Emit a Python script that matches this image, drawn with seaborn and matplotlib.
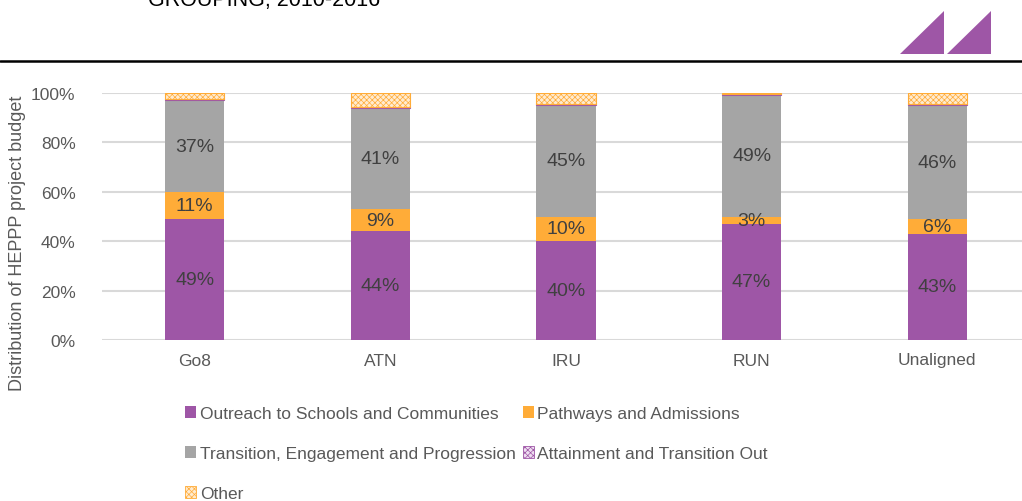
import numpy as np
import matplotlib
matplotlib.use("Agg")
import matplotlib.pyplot as plt
from matplotlib.patches import Polygon, Patch
from matplotlib.lines import Line2D
import pandas as pd
import seaborn as sns

groups = ["Go8", "ATN", "IRU", "RUN", "Unaligned"]
outreach = [49, 44, 40, 47, 43]
pathways = [11, 9, 10, 3, 6]
transition = [37, 41, 45, 49, 46]
attainment = [0.5, 0.5, 0.5, 0.4, 0.4]
other = [2.5, 5.5, 4.5, 0.6, 4.6]

series_names = ["Outreach to Schools and Communities", "Pathways and Admissions",
                "Transition, Engagement and Progression", "Attainment and Transition Out",
                "Other"]

sns.set_style("white")
plt.rcParams["font.family"] = ["Liberation Sans Narrow", "Liberation Sans", "DejaVu Sans"]
plt.rcParams["hatch.linewidth"] = 0.5

purple = "#9E56A6"
orange = "#FFAC38"
grey = "#A5A5A5"
txt = "#595959"

styles = [
    dict(color=purple, edgecolor="none", hatch=None),
    dict(color=orange, edgecolor="none", hatch=None),
    dict(color=grey, edgecolor="none", hatch=None),
    dict(color="#EEDDF0", edgecolor=purple, hatch="xxxxxx"),
    dict(color="#FFEBD0", edgecolor=orange, hatch="xxxxxx"),
]

df = pd.DataFrame({"group": groups, "outreach": outreach, "pathways": pathways,
                   "transition": transition, "attainment": attainment, "other": other})
cols = ["outreach", "pathways", "transition", "attainment", "other"]

fig = plt.figure(figsize=(10.22, 5.02), dpi=100)
ax = fig.add_axes([102 / 1022, 161 / 502, 920 / 1022, 247 / 502])

bottom = np.zeros(len(groups))
for i, c in enumerate(cols):
    st = styles[i]
    sns.barplot(data=df, x="group", y=c, ax=ax, bottom=bottom, width=0.32,
                color=st["color"], edgecolor=st["edgecolor"], hatch=st["hatch"],
                linewidth=0.8 if st["hatch"] else 0, saturation=1)
    if i < 3:
        for j, v in enumerate(df[c]):
            ax.text(j, bottom[j] + v / 2, f"{v:.0f}%", ha="center", va="center",
                    fontsize=14, color="#404040")
    bottom = bottom + df[c].values

ax.set_ylim(0, 100)
ax.set_xlim(-0.5, 4.5 - 8 / 185.7)
ax.set_yticks(range(0, 101, 20))
ax.set_yticklabels([f"{t}%" for t in range(0, 101, 20)])
ax.yaxis.grid(True, color="#D9D9D9", linewidth=1.5)
ax.set_axisbelow(True)
for s in ax.spines.values():
    s.set_visible(False)
ax.tick_params(axis="both", length=0, labelsize=12.5, labelcolor=txt)
ax.tick_params(axis="y", pad=19)
ax.tick_params(axis="x", pad=9)
ax.set_xlabel("")
ax.set_ylabel("")
fig.text(18 / 1022, 1 - 243 / 502, "Distribution of HEPPP project budget", rotation=90,
         ha="center", va="center", fontsize=13, color=txt)

# legend filled row by row like the original
order = [0, 2, 4, 1, 3]
handles = [Patch(facecolor=st["color"], edgecolor=st["edgecolor"] if st["hatch"] else "none",
                 hatch=st["hatch"], linewidth=0.6) for st in styles]
fig.legend([handles[k] for k in order], [series_names[k] for k in order], ncol=2,
           loc="upper left", bbox_to_anchor=(178 / 1022, 1 - 400 / 502), frameon=False,
           fontsize=12.5, labelcolor=txt, handlelength=0.65, handleheight=0.65,
           handletextpad=0.2, columnspacing=0.4, labelspacing=1.45, borderaxespad=0)

# header
fig.text(148 / 1022, 1 - 6 / 502, "GROUPING, 2010-2016", fontsize=15.5, color="black",
         family=["Liberation Sans", "DejaVu Sans"], ha="left", va="baseline")
fig.add_artist(Line2D([0, 1], [1 - 62 / 502, 1 - 62 / 502], color="black", linewidth=1.8))
for x0 in (900, 947):
    fig.add_artist(Polygon([(x0 / 1022, 1 - 55 / 502), ((x0 + 44) / 1022, 1 - 55 / 502),
                            ((x0 + 44) / 1022, 1 - 12 / 502)], closed=True,
                           facecolor=purple, edgecolor="none", transform=fig.transFigure))

fig.savefig("out.png", dpi=100)
